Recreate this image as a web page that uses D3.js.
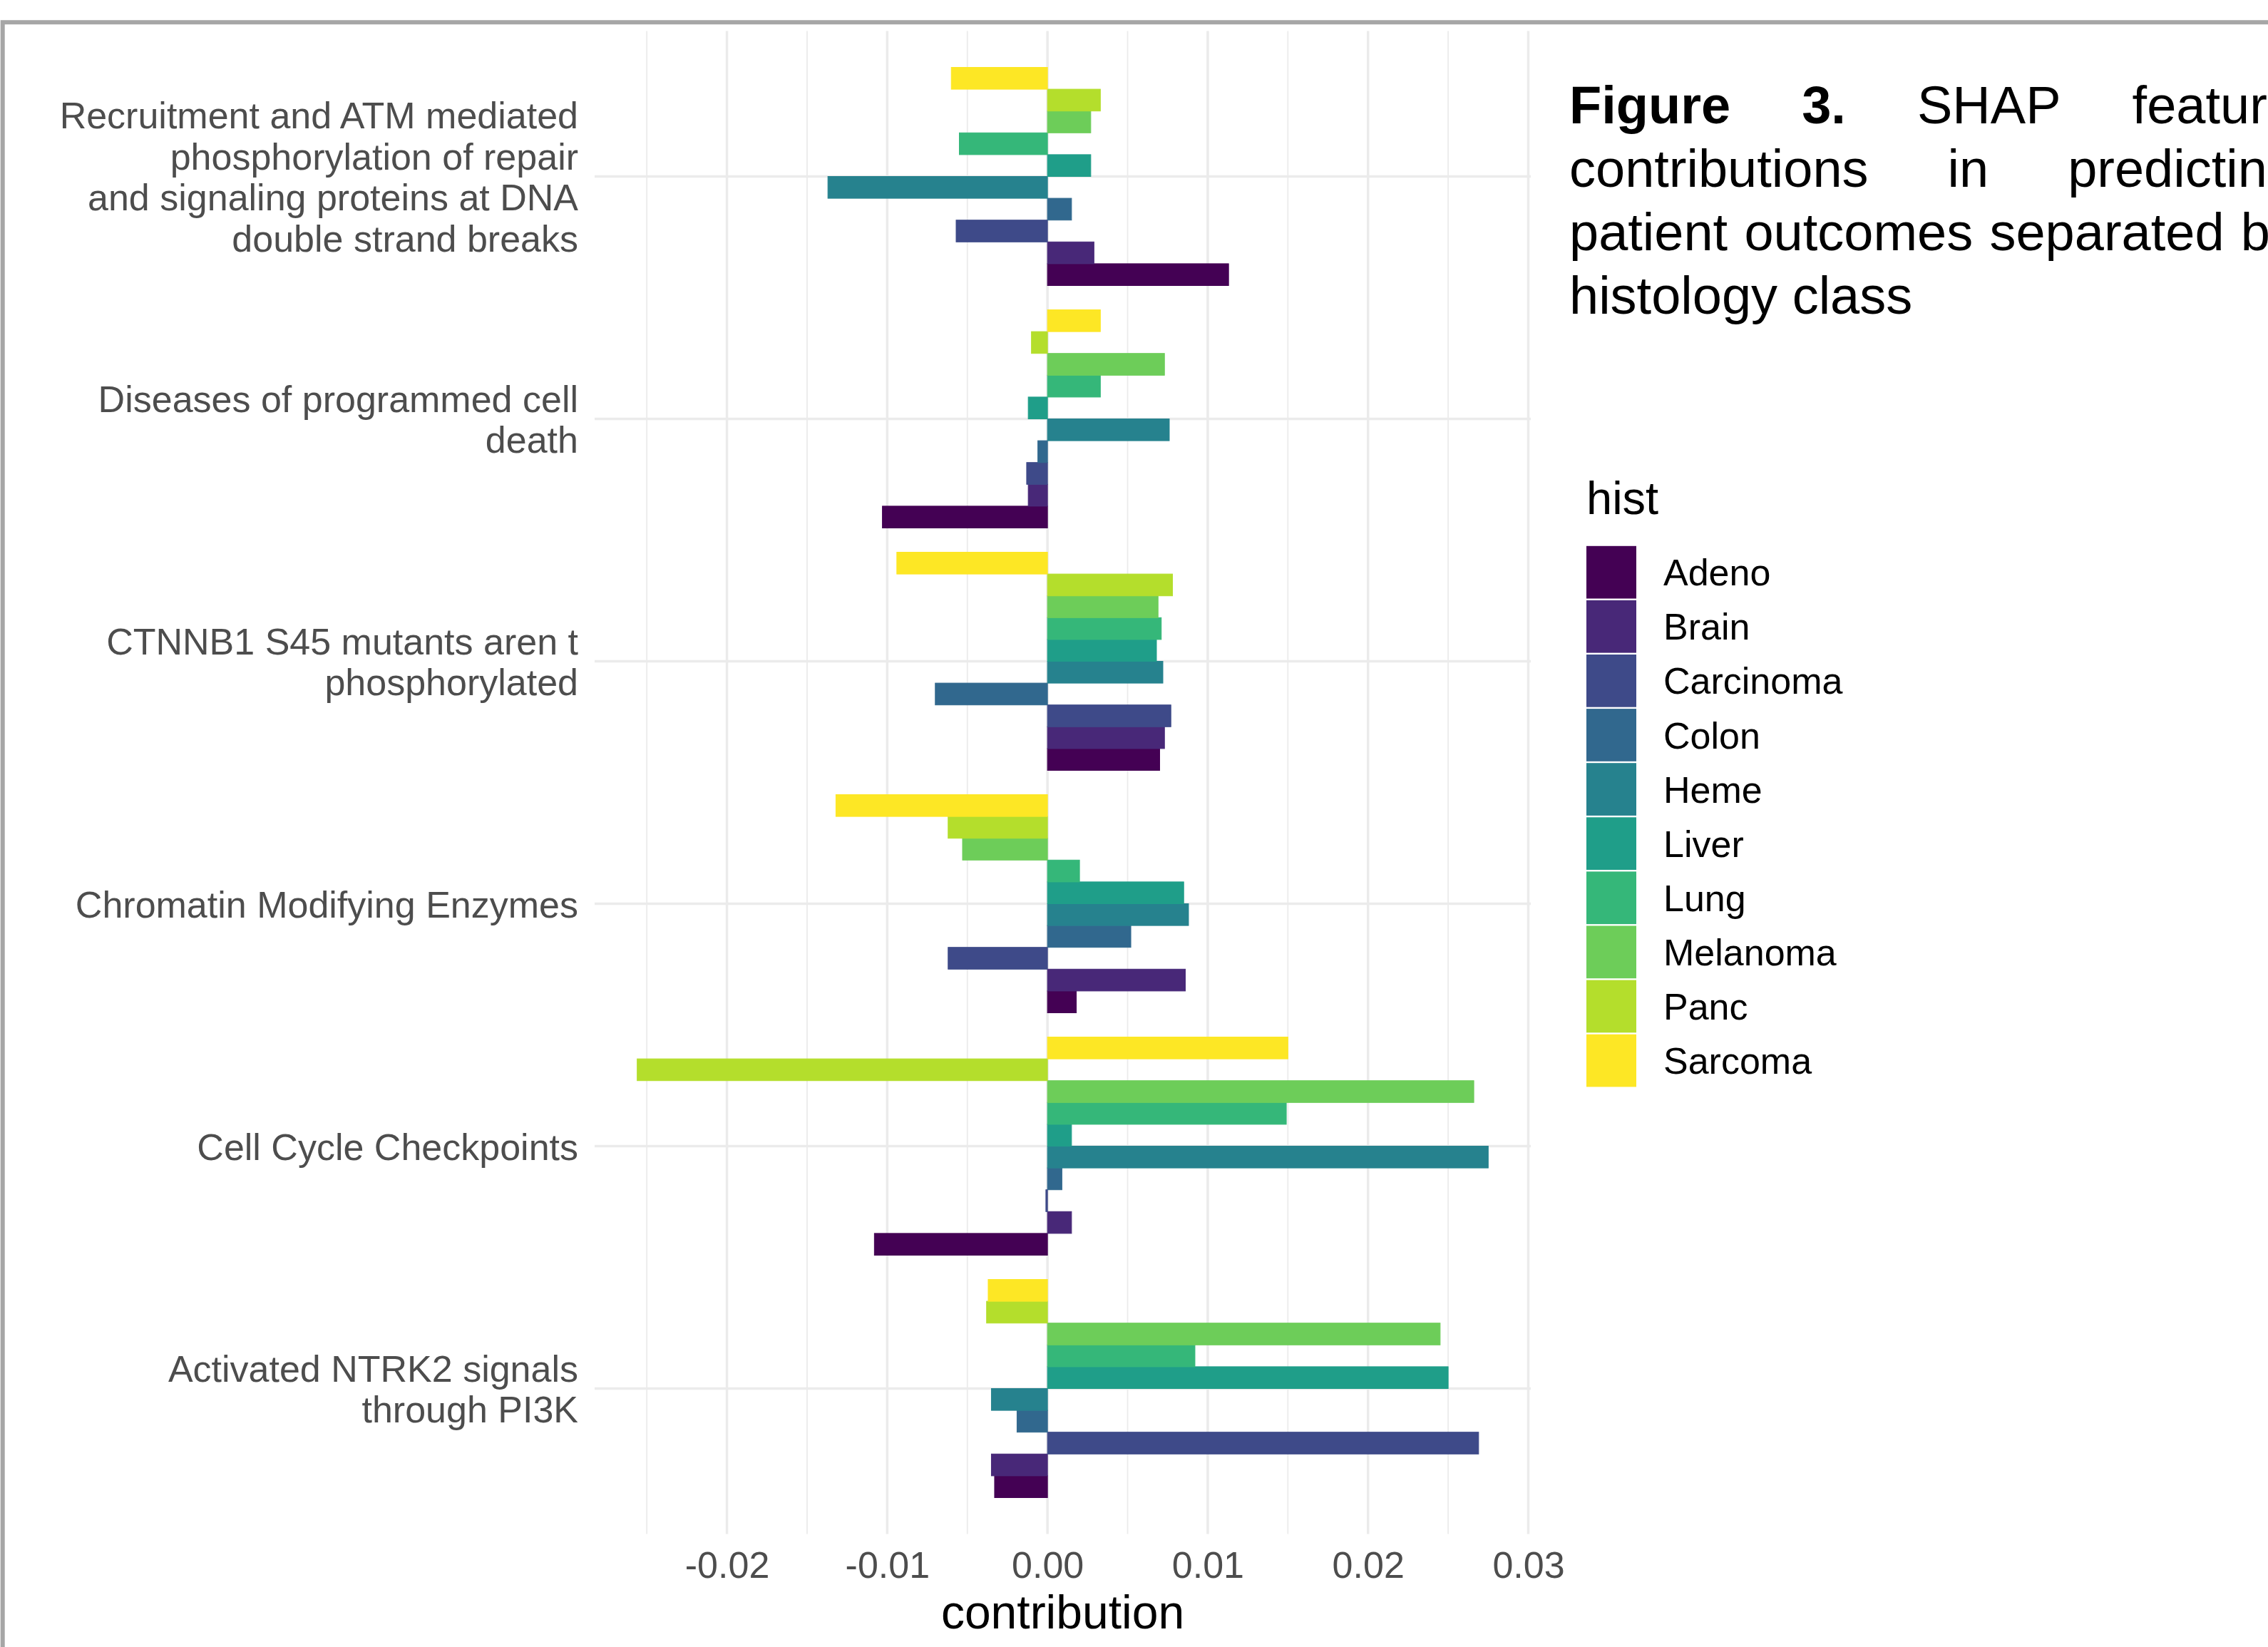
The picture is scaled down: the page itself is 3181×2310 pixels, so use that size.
<!DOCTYPE html>
<html>
<head>
<meta charset="utf-8">
<script src="https://cdn.jsdelivr.net/npm/d3@7"></script>
<style>
  html, body { margin: 0; padding: 0; background: #ffffff; }
  svg { display: block; font-family: "Liberation Sans", Arial, Helvetica, sans-serif; }
</style>
</head>
<body>
<svg id="chart" width="3181" height="2310"></svg>
<script>
// Pathways, top to bottom; "\n" marks the label line breaks
const categories = [
  "Recruitment and ATM mediated\nphosphorylation of repair\nand signaling proteins at DNA\ndouble strand breaks",
  "Diseases of programmed cell\ndeath",
  "CTNNB1 S45 mutants aren t\nphosphorylated",
  "Chromatin Modifying Enzymes",
  "Cell Cycle Checkpoints",
  "Activated NTRK2 signals\nthrough PI3K"
];

// Histology classes and their viridis colours
const histClasses = ["Adeno", "Brain", "Carcinoma", "Colon", "Heme", "Liver", "Lung", "Melanoma", "Panc", "Sarcoma"];
const histColors = ["#440154", "#482878", "#3E4A89", "#31688E", "#26828E", "#1F9E89", "#35B779", "#6DCD59", "#B4DE2C", "#FDE725"];

// SHAP contribution per pathway (same order as categories)
const adeno     = [ 0.0113, -0.0103,  0.0070,  0.0018, -0.0108, -0.0033];
const brain     = [ 0.0029, -0.0012,  0.0073,  0.0086,  0.0015, -0.0035];
const carcinoma = [-0.0057, -0.0013,  0.0077, -0.0062, -0.0001,  0.0269];
const colon     = [ 0.0015, -0.0006, -0.0070,  0.0052,  0.0009, -0.0019];
const heme      = [-0.0137,  0.0076,  0.0072,  0.0088,  0.0275, -0.0035];
const liver     = [ 0.0027, -0.0012,  0.0068,  0.0085,  0.0015,  0.0250];
const lung      = [-0.0055,  0.0033,  0.0071,  0.0020,  0.0149,  0.0092];
const melanoma  = [ 0.0027,  0.0073,  0.0069, -0.0053,  0.0266,  0.0245];
const panc      = [ 0.0033, -0.0010,  0.0078, -0.0062, -0.0256, -0.0038];
const sarcoma   = [-0.0060,  0.0033, -0.0094, -0.0132,  0.0150, -0.0037];
const seriesValues = [adeno, brain, carcinoma, colon, heme, liver, lung, melanoma, panc, sarcoma];

// Axis ticks
const xTicks = [-0.02, -0.01, 0, 0.01, 0.02, 0.03];
const xMinorTicks = [-0.025, -0.015, -0.005, 0.005, 0.015, 0.025];

const xTitle = "contribution";
const legendTitle = "hist";
const captionLines = [
  [{ t: "Figure", b: true }, { t: "3.", b: true }, { t: "SHAP" }, { t: "feature" }],
  [{ t: "contributions" }, { t: "in" }, { t: "predicting" }],
  [{ t: "patient" }, { t: "outcomes" }, { t: "separated" }, { t: "by" }],
  [{ t: "histology" }, { t: "class" }]
];

// ---------- layout ----------
const panel = { left: 834, right: 2147, top: 43.5, bottom: 2151.5 };
const axisGrey = "#4d4d4d";
const gridGrey = "#ebebeb";

const svg = d3.select("#chart");

// figure frame (top and left edges)
svg.append("path")
  .attr("d", "M3.7,2310 L3.7,31.3 L3181,31.3")
  .attr("fill", "none")
  .attr("stroke", "#a6a6a6")
  .attr("stroke-width", 6);

// records
const records = [];
categories.forEach((c, i) => {
  histClasses.forEach((h, j) => {
    records.push({ cat: c, hist: h, value: seriesValues[j][i], color: histColors[j] });
  });
});

// scales
const ext = d3.extent(records, d => d.value);
const padX = (ext[1] - ext[0]) * 0.05;
const x = d3.scaleLinear().domain([ext[0] - padX, ext[1] + padX]).range([panel.left, panel.right]);

const y = d3.scalePoint().domain(categories).range([panel.top, panel.bottom]).padding(0.6);
const step = y.step();
const inner = d3.scaleBand()
  .domain(histClasses.slice().reverse())
  .range([-0.45 * step, 0.45 * step])
  .padding(0);

// gridlines
const grid = svg.append("g");
grid.selectAll("line.minor").data(xMinorTicks).join("line")
  .attr("class", "minor")
  .attr("x1", d => x(d)).attr("x2", d => x(d))
  .attr("y1", panel.top).attr("y2", panel.bottom)
  .attr("stroke", gridGrey).attr("stroke-width", 1.8);
grid.selectAll("line.vmajor").data(xTicks).join("line")
  .attr("class", "vmajor")
  .attr("x1", d => x(d)).attr("x2", d => x(d))
  .attr("y1", panel.top).attr("y2", panel.bottom)
  .attr("stroke", gridGrey).attr("stroke-width", 3.5);
grid.selectAll("line.hmajor").data(categories).join("line")
  .attr("class", "hmajor")
  .attr("x1", panel.left).attr("x2", panel.right)
  .attr("y1", d => y(d)).attr("y2", d => y(d))
  .attr("stroke", gridGrey).attr("stroke-width", 3.5);

// bars
svg.append("g").selectAll("rect").data(records).join("rect")
  .attr("x", d => Math.min(x(0), x(d.value)))
  .attr("width", d => Math.abs(x(d.value) - x(0)))
  .attr("y", d => y(d.cat) + inner(d.hist))
  .attr("height", inner.bandwidth())
  .attr("fill", d => d.color)
  .attr("stroke", d => d.color)
  .attr("stroke-width", 1);

// x axis
const fmt = d3.formatLocale({ decimal: ".", thousands: ",", grouping: [3], currency: ["", ""], minus: "-" }).format(".2f");
const xAxis = svg.append("g")
  .attr("transform", `translate(0,${panel.bottom})`)
  .call(d3.axisBottom(x).tickValues(xTicks).tickFormat(fmt).tickSize(0));
xAxis.select(".domain").remove();
xAxis.selectAll("text")
  .attr("y", 61).attr("dy", 0)
  .attr("fill", axisGrey)
  .style("font-size", "52px")
  .style("font-family", "\"Liberation Sans\", Arial, sans-serif");

svg.append("text")
  .attr("x", (panel.left + panel.right) / 2)
  .attr("y", 2284)
  .attr("text-anchor", "middle")
  .attr("fill", "#000")
  .style("font-size", "66px")
  .text(xTitle);

// y axis with wrapped labels
const lineGap = 57.5;
const yAxis = svg.append("g")
  .call(d3.axisLeft(y).tickSize(0));
yAxis.select(".domain").remove();
yAxis.selectAll("text").each(function (d) {
  const lines = d.split("\n");
  const t = d3.select(this)
    .text(null)
    .attr("x", 811).attr("dy", 0).attr("y", 0)
    .attr("text-anchor", "end")
    .attr("fill", axisGrey)
    .style("font-size", "52px")
    .style("font-family", "\"Liberation Sans\", Arial, sans-serif");
  lines.forEach((ln, i) => {
    t.append("tspan")
      .attr("x", 811)
      .attr("y", (i - (lines.length - 1) / 2) * lineGap + 18.6)
      .text(ln);
  });
});

// legend
const legend = svg.append("g").attr("transform", "translate(2225,0)");
legend.append("text")
  .attr("x", 0).attr("y", 721)
  .attr("fill", "#000")
  .style("font-size", "65px")
  .text(legendTitle);
const keyStep = 76.1;
const keyTop = 764.6;
const keys = legend.selectAll("g.key").data(histClasses).join("g")
  .attr("class", "key")
  .attr("transform", (d, i) => `translate(0,${keyTop + i * keyStep})`);
keys.append("rect")
  .attr("x", 0).attr("y", 1.2)
  .attr("width", 70).attr("height", keyStep - 2.4)
  .attr("fill", (d, i) => histColors[i]);
keys.append("text")
  .attr("x", 108).attr("y", keyStep / 2 + 18.6)
  .attr("fill", "#000")
  .style("font-size", "52px")
  .text(d => d);

// caption, justified within a fixed column
const capX = 2201, capW = 1020, capSize = 74, capLead = 89, capBase = 173;
const cap = svg.append("g").style("font-size", capSize + "px").attr("fill", "#000");
captionLines.forEach((words, li) => {
  const by = capBase + li * capLead;
  const nodes = words.map(w => cap.append("text")
    .attr("y", by)
    .style("font-weight", w.b ? "bold" : "normal")
    .text(w.t));
  const widths = nodes.map(n => n.node().getComputedTextLength());
  const total = d3.sum(widths);
  const last = li === captionLines.length - 1;
  const gap = last ? capSize * 0.278 : (capW - total) / (words.length - 1);
  let cx = capX;
  nodes.forEach((n, k) => {
    n.attr("x", cx);
    cx += widths[k] + gap;
  });
});
</script>
</body>
</html>
